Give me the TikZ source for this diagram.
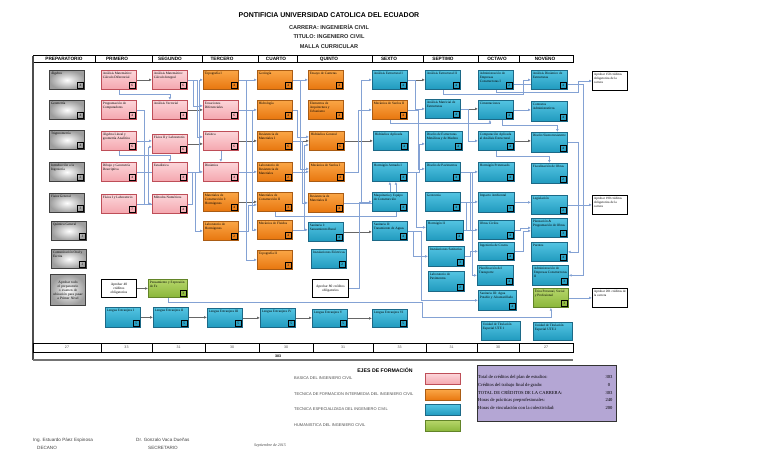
\documentclass[tikz,border=0pt]{standalone}
\usepackage{fontspec}
\setmainfont{Liberation Sans}
\newfontfamily\serifbox{Liberation Serif}
\usetikzlibrary{arrows.meta,backgrounds,shadows}

\definecolor{pinktop}{RGB}{252,214,218}
\definecolor{pinkbot}{RGB}{244,166,174}
\definecolor{pinkedge}{RGB}{190,78,88}
\definecolor{orangetop}{RGB}{250,166,70}
\definecolor{orangebot}{RGB}{232,118,14}
\definecolor{orangeedge}{RGB}{170,92,20}
\definecolor{cyantop}{RGB}{84,196,226}
\definecolor{cyanbot}{RGB}{32,154,190}
\definecolor{cyanedge}{RGB}{28,105,135}
\definecolor{greentop}{RGB}{182,214,106}
\definecolor{greenbot}{RGB}{138,182,58}
\definecolor{greenedge}{RGB}{98,132,40}
\definecolor{lineblue}{RGB}{132,162,212}
\definecolor{lavender}{RGB}{180,166,212}

\tikzset{boxsize/.code 2 args={\def\crsw{#1}\def\crsh{#2}}}

\begin{document}
\begin{tikzpicture}[x=1pt, y=-1pt,
    course/.style={rectangle, anchor=north west, inner sep=1.5pt, line width=0.8pt,
      boxsize={32pt}{16pt}, font=\serifbox\fontsize{3.4}{4}\selectfont,
      execute at begin node={\begin{minipage}[t][\crsh][t]{\crsw}\raggedright},
      execute at end node={\end{minipage}}},
    shade3d/.style={drop shadow={shadow xshift=0.8pt, shadow yshift=-0.8pt, opacity=0.3}},
    fprep/.style={draw=black!75, inner color=white, outer color=black!38},
    fbas/.style={draw=pinkedge, top color=pinktop, bottom color=pinkbot},
    finter/.style={draw=orangeedge, top color=orangetop, bottom color=orangebot},
    fesp/.style={draw=cyanedge, top color=cyantop, bottom color=cyanbot},
    fhum/.style={draw=greenedge, top color=greentop, bottom color=greenbot},
    prep/.style={course, shade3d, fprep, line width=1pt},
    bas/.style={course, shade3d, fbas},
    inter/.style={course, shade3d, finter},
    esp/.style={course, shade3d, fesp},
    human/.style={course, shade3d, fhum},
    goal/.style={course, draw=black, fill=white, line width=0.9pt,
      font=\serifbox\fontsize{3.3}{3.9}\selectfont},
    note/.style={rectangle, anchor=north west, draw=black, line width=0.9pt, fill=white,
      align=center, text width=32pt, minimum width=35pt, minimum height=18pt,
      inner sep=1.5pt, font=\serifbox\fontsize{3.5}{4.1}\selectfont},
    cred/.style={draw=black, line width=0.7pt, minimum size=5.5pt, inner sep=0pt,
      font=\serifbox\fontsize{3.4}{3.4}\selectfont},
    colhead/.style={inner sep=0pt, font=\bfseries\fontsize{4.7}{5}\selectfont},
    subtit/.style={inner sep=0pt, text=black!85, font=\bfseries\fontsize{5.6}{6}\selectfont},
    tabnum/.style={inner sep=0pt, text=black!70, font=\fontsize{3.6}{4}\selectfont},
    swatch/.style={rectangle, anchor=north west, minimum width=35pt, minimum height=11pt,
      inner sep=0pt, line width=0.8pt, shade3d},
    legtext/.style={anchor=west, inner sep=0pt, text=black!70, font=\fontsize{4}{4.5}\selectfont},
    stattext/.style={anchor=west, inner sep=0pt, font=\serifbox\fontsize{4.6}{5}\selectfont},
    sign/.style={anchor=west, inner sep=0pt, text=black!75, font=\fontsize{4.6}{5}\selectfont},
    req/.style={-{Latex[length=2.8pt,width=2.6pt]}, draw=lineblue, line width=0.7pt},
    coreq/.style={-{Latex[length=2.8pt,width=2.6pt]}, draw=black!60, line width=0.7pt}
  ]
  \hyphenpenalty=10000
  \exhyphenpenalty=10000
  \useasboundingbox (0,0) rectangle (768,466);

  % titles
  \node[inner sep=0pt, font=\bfseries\fontsize{7}{8}\selectfont] (title) at (329,15)
    {PONTIFICIA UNIVERSIDAD CATOLICA DEL ECUADOR};
  \node[subtit] (carrera) at (329,27) {CARRERA: INGENIERÍA CIVIL};
  \node[subtit] (titulo) at (329,37) {TITULO: INGENIERO CIVIL};
  \node[subtit] (malla) at (329,47) {MALLA CURRICULAR};

  % semester header
  \draw[line width=0.8pt] (33,55.5) rectangle (573,62.5);
  \foreach \x in {95,152,202,258,297,372,423,478,519}
    \draw[line width=0.8pt] (\x,55.5) -- (\x,62.5);
  \foreach \t/\x in {PREPARATORIO/64, PRIMERO/117, SEGUNDO/170, TERCERO/222, CUARTO/276,
      QUINTO/329, SEXTO/389, SEPTIMO/443, OCTAVO/497, NOVENO/545}
    \node[colhead] (h-\t) at (\x,59.2) {\t};
  \draw[line width=1.3pt, black!70] (33,55.5) -- (33,360);

  % preparatorio
  \node[prep] (alg) at (49,70) {Álgebra};
  \node[prep] (geo) at (49,100) {Geometría};
  \node[prep] (trig) at (49,130) {Trigonometría};
  \node[prep] (intro) at (49,162) {Introducción a la Ingeniería};
  \node[prep] (fisg) at (49,193) {Física General};
  \node[prep] (quig) at (51,221) {Química General};
  \node[prep] (com) at (51,249) {Comunicación Oral y Escrita};
  \node[note, fprep, shade3d, minimum height=31pt, line width=1pt] (aprep) at (50,274)
    {Aprobar todo el preparatorio o examen de ubicación para pasar a Primer Nivel};

  % primero
  \node[bas] (cdif) at (101,70) {Análisis Matemático: Cálculo Diferencial};
  \node[bas] (prog) at (101,100) {Programación de Computadores};
  \node[bas] (alin) at (101,131) {Álgebra Lineal y geometría Analítica};
  \node[bas] (dib) at (101,162) {Dibujo y Geometría Descriptiva};
  \node[bas] (fis1) at (101,194) {Física I y Laboratorio};
  \node[note] (apr40) at (101,279) {Aprobar 40\\créditos\\obligatorios};
  \node[esp, boxsize={32pt}{17pt}] (le1) at (105,307) {Lengua Extranjera I};

  % segundo
  \node[bas] (cint) at (152,70) {Análisis Matemático: Cálculo Integral};
  \node[bas] (avec) at (152,100) {Análisis Vectorial};
  \node[bas] (fis2) at (152,134) {Física II y Laboratorio};
  \node[bas] (est) at (152,162) {Estadística};
  \node[bas] (mnum) at (152,194) {Métodos Numéricos};
  \node[human, boxsize={36pt}{15pt}] (pfe) at (148,279) {Pensamiento y Expresión de Fe};
  \node[esp, boxsize={32pt}{17pt}] (le2) at (153,307) {Lengua Extranjera II};

  % tercero
  \node[inter] (topo1) at (203,70) {Topografía I};
  \node[bas] (ecd) at (203,100) {Ecuaciones Diferenciales};
  \node[bas] (estat) at (203,131) {Estática};
  \node[bas] (din) at (203,162) {Dinámica};
  \node[inter] (mat1) at (203,192) {Materiales de Construcción I: Hormigones};
  \node[inter] (labh) at (203,221) {Laboratorio de Hormigones};
  \node[esp, boxsize={32pt}{16pt}] (le3) at (207,308) {Lengua Extranjera III};

  % cuarto
  \node[inter] (geol) at (257,70) {Geología};
  \node[inter] (hidro) at (257,100) {Hidrología};
  \node[inter] (res1) at (257,131) {Resistencia de Materiales I};
  \node[inter] (labres) at (257,162) {Laboratorio de Resistencia de Materiales};
  \node[inter] (mat2) at (257,192) {Materiales de Construcción II};
  \node[inter] (mfl) at (257,220) {Mecánica de Fluidos};
  \node[inter] (topo2) at (257,250) {Topografía II};
  \node[esp, boxsize={32pt}{16pt}] (le4) at (260,308) {Lengua Extranjera IV};

  % quinto
  \node[inter] (ens) at (308,70) {Ensayo de Canteras};
  \node[inter] (arq) at (308,100) {Elementos de Arquitectura y Urbanismo};
  \node[inter] (hgen) at (309,131) {Hidráulica General};
  \node[inter] (ms1) at (309,162) {Mecánica de Suelos I};
  \node[inter] (res2) at (308,193) {Resistencia de Materiales II};
  \node[esp] (san1) at (308,222) {Sanitaria I: Saneamiento Rural};
  \node[esp] (inel) at (311,249) {Instalaciones Eléctricas};
  \node[note, text width=33pt] (apr80) at (312,279) {Aprobar 80 créditos obligatorios};
  \node[esp, boxsize={32pt}{15pt}] (le5) at (312,309) {Lengua Extranjera V};

  % sexto
  \node[esp] (ae1) at (372,70) {Análisis Estructural I};
  \node[inter] (ms2) at (372,100) {Mecánica de Suelos II};
  \node[esp] (hapl) at (373,131) {Hidráulica Aplicada};
  \node[esp] (ha1) at (372,162) {Hormigón Armado I};
  \node[esp] (maq) at (372,192) {Maquinaria y Equipo de Construcción};
  \node[esp] (san2) at (372,221) {Sanitaria II: Tratamiento de Aguas};
  \node[esp, boxsize={32pt}{15pt}] (le6) at (372,309) {Lengua Extranjera VI};

  % septimo
  \node[esp] (ae2) at (425,70) {Análisis Estructural II};
  \node[esp] (amat) at (425,99) {Análisis Matricial de Estructuras};
  \node[esp, boxsize={34pt}{16pt}] (dmet) at (425,131) {Diseño de Estructuras Metálicas y de Madera};
  \node[esp] (dpav) at (425,162) {Diseño de Pavimentos};
  \node[esp] (geot) at (425,192) {Geotecnia};
  \node[esp, boxsize={34pt}{17pt}] (ha2) at (426,220) {Hormigón II};
  \node[esp, boxsize={33pt}{17pt}] (insan) at (428,246) {Instalaciones Sanitarias};
  \node[esp, boxsize={33pt}{17pt}] (labpav) at (428,271) {Laboratorio de Pavimentos};

  % octavo
  \node[esp] (adm1) at (478,70) {Administración de Empresas Constructoras I};
  \node[esp] (cim) at (478,100) {Cimentaciones};
  \node[esp, boxsize={33pt}{16pt}] (comp) at (478,131) {Computación Aplicada al Análisis Estructural};
  \node[esp, boxsize={33pt}{16pt}] (hpre) at (478,162) {Hormigón Pretensado};
  \node[esp, boxsize={33pt}{17pt}] (imp) at (478,192) {Impacto Ambiental};
  \node[esp, boxsize={33pt}{16pt}] (obras) at (478,220) {Obras Civiles};
  \node[esp, boxsize={33pt}{15pt}] (costos) at (478,242) {Ingeniería de Costos};
  \node[esp, boxsize={33pt}{17pt}] (ptran) at (477,265) {Planificación del Transporte};
  \node[esp, boxsize={35pt}{17pt}] (san3) at (478,290) {Sanitaria III: Agua Potable y Alcantarillado};
  \node[esp, boxsize={36pt}{16pt}] (ute1) at (481,321) {Unidad de Titulación Especial UTE 1};

  % noveno
  \node[esp, boxsize={33pt}{16pt}] (adin) at (531,70) {Análisis Dinámico de Estructuras};
  \node[esp, boxsize={33pt}{17pt}] (contr) at (531,101) {Contratos Administrativos};
  \node[esp, boxsize={33pt}{17pt}] (dsis) at (531,132) {Diseño Sismorresistente};
  \node[esp, boxsize={33pt}{17pt}] (fisc) at (531,163) {Fiscalización de Obras};
  \node[esp, boxsize={33pt}{16pt}] (legis) at (531,195) {Legislación};
  \node[esp, boxsize={33pt}{16pt}] (plan) at (531,218) {Planeación \& Programación de Obras};
  \node[esp, boxsize={33pt}{16pt}] (puen) at (531,242) {Puentes};
  \node[esp, boxsize={33pt}{17pt}] (adm2) at (532,265) {Administración de Empresas Constructoras II};
  \node[human, boxsize={32pt}{16pt}] (etica) at (533,288) {Ética Personal, Social y Profesional};
  \node[esp, boxsize={36pt}{15pt}] (ute2) at (533,322) {Unidad de Titulación Especial UTE 2};

  % credit requirements
  \node[goal] (apr150) at (592,71) {Aprobar 150 créditos obligatorios de la carrera};
  \node[goal] (apr190) at (592,195) {Aprobar 190 créditos obligatorios de la carrera};
  \node[goal] (apr201) at (592,288) {Aprobar 201 créditos de la carrera};

  % credits of each course
  \foreach \n/\c in {alg/4, geo/4, trig/4, intro/2, fisg/3, quig/3, com/2,
      cdif/6, prog/4, alin/6, dib/4, fis1/7, le1/5, cint/6, avec/4, fis2/6, est/4, mnum/4,
      pfe/3, le2/5, topo1/4, ecd/6, estat/6, din/4, mat1/4, labh/2, le3/5, geol/4, hidro/4,
      res1/6, labres/2, mat2/3, mfl/4, topo2/3, le4/5, ens/4, arq/4, hgen/6, ms1/4, res2/4,
      san1/4, inel/2, le5/5, ae1/4, ms2/4, hapl/4, ha1/4, maq/4, san2/4, le6/5, ae2/4,
      amat/4, dmet/4, dpav/4, geot/4, ha2/4, insan/3, labpav/2, adm1/2, cim/4, comp/4,
      hpre/4, imp/3, obras/4, costos/4, ptran/4, san3/4, adin/4, contr/4, dsis/4, fisc/2,
      legis/2, plan/3, puen/4, adm2/3, etica/3}
    \node[cred] (\n-c) at ([xshift=-4.5pt,yshift=4.5pt]\n.south east) {\c};

  % prerequisites
  \begin{scope}[on background layer]
    \foreach \a/\b in {cdif/cint, avec/ecd, fis2/estat, estat/res1, mat1/mat2, res1/hgen,
        hgen/hapl, san1/san2, ae1/ae2, amat/cim, comp/dsis, apr40/pfe,
        le1/le2, le2/le3, le3/le4, le4/le5, le5/le6}
      \draw[coreq] (\a) -- (\a -| \b.west);
    \foreach \a/\b in {alin/fis2, topo1/geol, ecd/hidro, din/labres, geol/ens, labres/ms1,
        mfl/san1, cim/contr, geot/imp, imp/legis, legis/apr190, etica/apr201}
      \draw[req] (\a) -- (\a -| \b.west);
    \foreach \a/\b/\d/\dy in {cint/ecd/6/4, cint/estat/10/4, prog/mnum/8/0, fis1/fis2/12/-3,
        dib/topo1/63/0, fis1/din/56/0, est/labh/8/0, topo1/topo2/8/0, ecd/mfl/14/0,
        labh/mat2/10/-3, geol/ms1/8/3, hidro/hgen/5/4, res1/res2/10/0, mfl/hgen/12/-4,
        ms1/ms2/14/0, res2/ae1/18/0, apr80/maq/10/0, ae1/amat/8/0, ms2/dpav/11/3,
        ha1/ha2/9/3, ha1/dmet/12/-3, san2/san3/14/0, san2/insan/6/0, amat/comp/8/0,
        dpav/ptran/12/0, geot/obras/6/0, ha2/hpre/7/0, insan/costos/6/0, obras/plan/6/0,
        costos/plan/9/-3}
      \draw[req] (\a.east) -- ++(\d,0) |- ([yshift=\dy pt]\b.west);
    \draw[req] (cdif.south) -- ++(0,5) -| (avec.north);
    \draw[req] (alin.south) -- ++(0,5) -| (est.north);
    \draw[req] (estat.south) -- (din.north);
    \draw[req] (res2.east) -| (ha1.south);
    \draw[req] (mat2.south) -- ++(0,5) -| ([xshift=6pt]ha1.south);
    \draw[req] (pfe.south) |- (422,302) |- ([yshift=-10pt]etica.south) -- (etica.south);
    \draw[req] (ms2.south) -- ++(0,4) -| ([xshift=-6pt]cim.south);
    \draw[req] ([xshift=6pt]cim.south) -- ++(0,6) -| ([xshift=8pt]dsis.north);
    \draw[req] (comp.south) -- ++(0,6) -| (fisc.north);
    \draw[req] (ae2.south) |- (523,94) |- (adin.west);
    \draw[req] (adm1.south) |- (578,92) |- (apr150.west);
    \draw[req] ([yshift=-4pt]adm1.east) -- ++(70,0) |- (adm2.east);
    \draw[req] (dsis.east) -- ++(11,0) |- (puen.east);
  \end{scope}

  % credits per semester
  \draw[line width=0.7pt] (33,343) rectangle (573,352);
  \foreach \x/\c/\v in {33/101/27, 101/152/33, 152/205/31, 205/259/30, 259/313/30,
      313/373/31, 373/426/33, 426/477/31, 477/519/30, 519/573/27} {
    \draw[line width=0.7pt] (\c,343) -- (\c,352);
    \node[tabnum] (sum-\x) at ({(\x+\c)/2},347.6) {\v};
  }
  \node[tabnum, text=black, font=\bfseries\fontsize{3.6}{4}\selectfont] (total) at (278,356) {303};
  \draw[line width=1.3pt, black!55] (33,360) -- (573,360);

  % legend
  \node[inner sep=0pt, font=\bfseries\fontsize{5.2}{6}\selectfont] (ejes) at (385,370) {EJES DE FORMACIÓN};
  \foreach \t/\y/\f [count=\i] in {BASICA DEL INGENIERO CIVIL/373/fbas,
      TECNICA DE FORMACION INTERMEDIA DEL INGENIERO CIVIL/389/finter,
      TECNICA ESPECIALIZADA DEL INGENIERO CIVIL/404/fesp,
      HUMANISTICA DEL INGENIERO CIVIL/420/fhum} {
    \node[swatch, \f] (sw-\i) at (425,\y) {};
    \node[legtext] (lg-\i) at (294,\y+5.5) {\t};
  }

  % totals
  \node[rectangle, anchor=north west, draw=black!80, line width=1.2pt, fill=lavender,
    minimum width=139pt, minimum height=56pt] (stats) at (477,365) {};
  \foreach \t/\v [count=\i] in {Total de créditos del plan de estudios:/303,
      Créditos del trabajo final de grado:/0,
      TOTAL DE CRÉDITOS DE LA CARRERA:/303,
      Horas de prácticas preprofesionales:/240,
      Horas de vinculación con la colectividad:/200} {
    \node[stattext] (st-\i) at (478,369.5+7.7*\i) {\t};
    \node[stattext, anchor=center] (sv-\i) at (609,369.5+7.7*\i) {\v};
  }

  % signatures
  \node[sign] (decano) at (33,440) {Ing. Estuardo Páez Espinosa};
  \node[sign] (decano-t) at (37,448) {DECANO};
  \node[sign] (secre) at (136,440) {Dr. Gonzalo Vaca Dueñas};
  \node[sign] (secre-t) at (148,448) {SECRETARIO};
  \node[sign, font=\serifbox\itshape\fontsize{4}{4.5}\selectfont] (fecha) at (254,446) {Septiembre de 2015};
\end{tikzpicture}
\end{document}
